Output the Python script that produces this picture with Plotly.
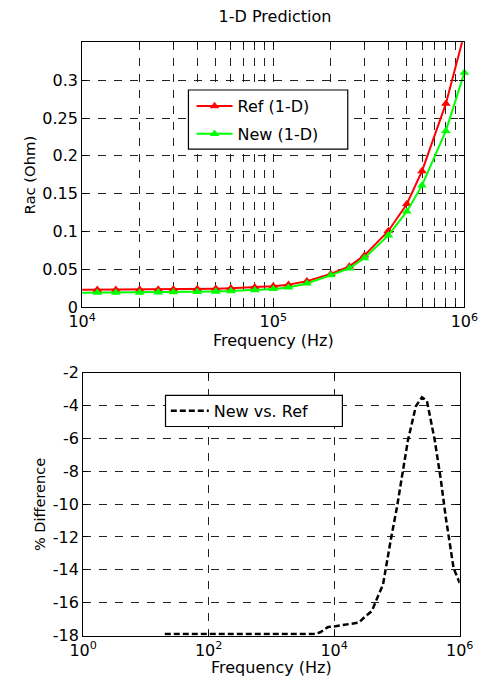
import plotly.graph_objects as go

# ---------------- data ----------------
freq_top = [8e3, 1.2e4, 1.5e4, 2e4, 2.5e4, 3e4, 4e4, 5e4, 6e4, 8e4,
            1e5, 1.2e5, 1.5e5, 2e5, 2.5e5, 3e5, 4e5, 5e5, 6e5, 8e5, 1e6]
rac_ref = [0.0228, 0.0230, 0.0231, 0.0233, 0.0235, 0.0237, 0.0241, 0.0246, 0.0252, 0.0263,
           0.0278, 0.0298, 0.0345, 0.0440, 0.0540, 0.0685, 0.1008, 0.1365, 0.1800, 0.2690, 0.3620]
rac_new = [0.0190, 0.0192, 0.0193, 0.0195, 0.0197, 0.0199, 0.0203, 0.0208, 0.0214, 0.0226,
           0.0242, 0.0262, 0.0315, 0.0424, 0.0515, 0.0650, 0.0950, 0.1266, 0.1610, 0.2330, 0.3100]

freq_diff = [20, 50, 100, 200, 500, 1000, 2000, 5000, 6000, 8000, 1e4, 1.2e4, 1.5e4, 2e4,
             2.5e4, 3e4, 4e4, 5e4, 6e4, 8e4, 1e5, 1.2e5, 1.5e5, 2e5, 2.5e5, 3e5, 4e5, 5e5,
             6e5, 8e5, 1e6]
pct_diff = [-17.9, -17.9, -17.9, -17.9, -17.9, -17.9, -17.9, -17.9, -17.8, -17.48, -17.45,
            -17.4, -17.35, -17.3, -17.2, -16.9, -16.5, -15.6, -14.9, -12.15, -10.2, -8.35,
            -6.1, -4.05, -3.5, -3.7, -6.1, -8.5, -10.8, -13.9, -14.8]

rac_ticks = [0, 0.05, 0.1, 0.15, 0.2, 0.25, 0.3]
rac_ticklabels = ["0", "0.05", "0.1", "0.15", "0.2", "0.25", "0.3"]
top_freq_ticks = [1e4, 1e5, 1e6]
top_freq_labels = ["10<sup>4</sup>", "10<sup>5</sup>", "10<sup>6</sup>"]
top_freq_minor = [2e4, 3e4, 4e4, 5e4, 6e4, 7e4, 8e4, 9e4,
                  2e5, 3e5, 4e5, 5e5, 6e5, 7e5, 8e5, 9e5]
diff_ticks = [-18, -16, -14, -12, -10, -8, -6, -4, -2]
diff_labels = ["-18", "-16", "-14", "-12", "-10", "-8", "-6", "-4", "-2"]
bot_freq_ticks = [1, 1e2, 1e4, 1e6]
bot_freq_labels = ["10<sup>0</sup>", "10<sup>2</sup>", "10<sup>4</sup>", "10<sup>6</sup>"]

# ---------------- figure ----------------
W, H = 490, 690
FONT = "DejaVu Sans"
GRID = "#222222"
GDASH = "8px,8px"
MSIZE = 8.5

# markers are only shown for points inside the visible x-range
top_xmin = top_freq_ticks[0]
marker_opac = [1 if f >= top_xmin else 0 for f in freq_top]

fig = go.Figure()
fig.add_trace(go.Scatter(
    x=freq_top, y=rac_ref, mode="lines+markers", name="Ref (1-D)",
    line=dict(color="#ff0000", width=2),
    marker=dict(symbol="triangle-up", size=MSIZE, color="#ff0000", opacity=marker_opac),
    cliponaxis=True,
    xaxis="x", yaxis="y", legend="legend", legendgroup="ref"))
fig.add_trace(go.Scatter(
    x=freq_top, y=rac_new, mode="lines+markers", name="New (1-D)",
    line=dict(color="#00ff00", width=2),
    marker=dict(symbol="triangle-up", size=MSIZE, color="#00ff00", opacity=marker_opac),
    cliponaxis=False,
    xaxis="x", yaxis="y", legend="legend", legendgroup="new"))
fig.add_trace(go.Scatter(
    x=freq_diff, y=pct_diff, mode="lines", name="New vs. Ref",
    line=dict(color="black", width=2.5, dash="6px,3px"),
    xaxis="x2", yaxis="y2", legend="legend2"))

common = dict(
    ticks="inside", ticklen=5, tickcolor="black", tickwidth=1,
    showline=True, linecolor="black", linewidth=1, mirror="ticks",
    showgrid=True, gridcolor=GRID, gridwidth=1, griddash=GDASH,
    zeroline=False, tickfont=dict(size=16, color="black", family=FONT),
    tickmode="array",
)

TOP_X = [72.3, 477.7]
TOP_Y = [34.3, 306.7]
BOT_X = [73.3, 472.7]
BOT_Y = [374.0, 644.3]

fig.update_layout(
    width=W, height=H,
    margin=dict(l=0, r=0, t=0, b=0),
    paper_bgcolor="white", plot_bgcolor="white",
    font=dict(family=FONT, size=16, color="black"),
    title=dict(text="1-D Prediction", x=275 / W, xanchor="center",
               y=1 - 16.7 / H, yanchor="middle",
               font=dict(size=16, family=FONT, color="black")),
    xaxis=dict(
        type="log", domain=[TOP_X[0] / W, TOP_X[1] / W], range=[4, 6], anchor="y",
        tickvals=top_freq_ticks, ticktext=top_freq_labels,
        minor=dict(tickvals=top_freq_minor, ticks="inside", ticklen=3,
                   tickcolor="black", showgrid=True, gridcolor=GRID,
                   griddash=GDASH, gridwidth=1),
        **common),
    yaxis=dict(
        domain=[1 - TOP_Y[1] / H, 1 - TOP_Y[0] / H], range=[0, 0.35], anchor="x",
        tickvals=rac_ticks, ticktext=rac_ticklabels,
        **common),
    xaxis2=dict(
        type="log", domain=[BOT_X[0] / W, BOT_X[1] / W], range=[0, 6], anchor="y2",
        tickvals=bot_freq_ticks, ticktext=bot_freq_labels,
        **common),
    yaxis2=dict(
        domain=[1 - BOT_Y[1] / H, 1 - BOT_Y[0] / H], range=[-18, -2], anchor="x2",
        tickvals=diff_ticks, ticktext=diff_labels,
        **common),
    legend=dict(
        x=188.3 / W, y=1 - 82.4 / H, xanchor="left", yanchor="top",
        bgcolor="rgba(0,0,0,0)", borderwidth=0, itemwidth=36,
        font=dict(size=16, family=FONT, color="black"),
        tracegroupgap=4),
    legend2=dict(
        x=161 / W, y=1 - 395.8 / H, xanchor="left", yanchor="top",
        bgcolor="rgba(0,0,0,0)", borderwidth=0, itemwidth=38,
        font=dict(size=16, family=FONT, color="black")),
    shapes=[
        dict(type="rect", xref="paper", yref="paper", layer="above",
             x0=185 / W, x1=354 / W, y0=1 - 144 / H, y1=1 - 83.3 / H,
             fillcolor="white", line=dict(color="black", width=1.2)),
        dict(type="rect", xref="paper", yref="paper", layer="above",
             x0=160.7 / W, x1=348.3 / W, y0=1 - 429.3 / H, y1=1 - 397.3 / H,
             fillcolor="white", line=dict(color="black", width=1.2)),
    ],
    annotations=[
        dict(text="Frequency (Hz)", xref="paper", yref="paper", showarrow=False,
             x=(TOP_X[0] + TOP_X[1]) / 2 / W, y=1 - 340.5 / H,
             xanchor="center", yanchor="middle", font=dict(size=16)),
        dict(text="Frequency (Hz)", xref="paper", yref="paper", showarrow=False,
             x=(BOT_X[0] + BOT_X[1]) / 2 / W, y=1 - 677.5 / H,
             xanchor="center", yanchor="middle", font=dict(size=16)),
        dict(text="Rac (Ohm)", xref="paper", yref="paper", showarrow=False,
             x=16.7 / W, y=1 - (TOP_Y[0] + TOP_Y[1]) / 2 / H, textangle=-90,
             xanchor="center", yanchor="middle", font=dict(size=14.8)),
        dict(text="% Difference", xref="paper", yref="paper", showarrow=False,
             x=27.5 / W, y=1 - (BOT_Y[0] + BOT_Y[1]) / 2 / H, textangle=-90,
             xanchor="center", yanchor="middle", font=dict(size=14.5)),
    ],
)

fig.write_html("out.html")
